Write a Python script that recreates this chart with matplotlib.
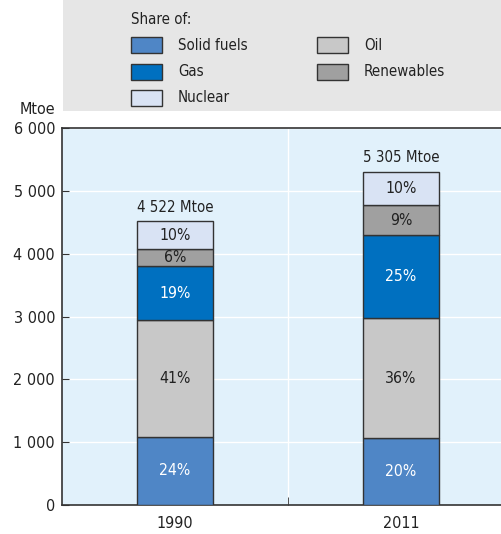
import matplotlib.pyplot as plt
import matplotlib.ticker as ticker
from matplotlib.patches import Rectangle

plt.rcParams['font.family'] = ['Liberation Sans Narrow', 'DejaVu Sans']
plt.rcParams['font.stretch'] = 'condensed'

# Data (Mtoe)
years = ["1990", "2011"]
totals = [4522, 5305]
sources = ["Solid fuels", "Oil", "Gas", "Renewables", "Nuclear"]
shares_1990 = [24, 41, 19, 6, 10]
shares_2011 = [20, 36, 25, 9, 10]
values_1990 = [1085, 1854, 859, 271, 453]
values_2011 = [1061, 1910, 1326, 477, 531]

colors = {"Solid fuels": "#4f86c6", "Oil": "#c8c8c8", "Gas": "#0070c0",
          "Renewables": "#a0a0a0", "Nuclear": "#d9e3f4"}
text_colors = {"Solid fuels": "white", "Oil": "#222222", "Gas": "white",
               "Renewables": "#222222", "Nuclear": "#222222"}

fig = plt.figure(figsize=(5.01, 5.34), dpi=100)
# axes run past the right edge of the picture
ax = fig.add_axes([0.1238, 0.0543, 0.902, 0.706])
ax.set_facecolor("#e1f1fb")

values = [values_1990, values_2011]
shares = [shares_1990, shares_2011]
x = [0, 1]
width = 0.336

for i in range(len(years)):
    bottom = 0
    for j, src in enumerate(sources):
        v = values[i][j]
        ax.bar(x[i], v, width, bottom=bottom, color=colors[src],
               edgecolor="#333333", linewidth=1, zorder=3)
        ax.text(x[i], bottom + v / 2, f"{shares[i][j]}%", ha="center", va="center",
                color=text_colors[src], fontsize=11.3, zorder=4)
        bottom += v
    ax.text(x[i], bottom + 100, f"{totals[i]:,} Mtoe".replace(",", " "), ha="center",
            va="bottom", fontsize=10.8, color="#222222")

ax.set_xlim(-0.5, 1.5)
ax.set_ylim(0, 6000)
ax.set_yticks(range(0, 6001, 1000))
ax.yaxis.set_major_formatter(ticker.FuncFormatter(lambda v, p: f"{int(v):,}".replace(",", " ")))
ax.set_xticks(x)
ax.set_xticklabels(years)
ax.set_xticks([0.5], minor=True)
ax.tick_params(axis="x", which="major", length=0, labelsize=11.5, pad=8, colors="#222222")
ax.tick_params(axis="x", which="minor", direction="in", length=6, color="#333333")
ax.tick_params(axis="y", direction="in", length=5, labelsize=11.6, pad=5, colors="#222222", color="#333333")
ax.grid(axis="y", color="white", linewidth=1, zorder=1)
ax.axvline(0.5, color="white", linewidth=1, zorder=1)
for side in ["left", "bottom", "top"]:
    ax.spines[side].set_color("#333333")
    ax.spines[side].set_linewidth(1.2)
ax.spines["right"].set_visible(False)
ax.text(-0.015, 1.028, "Mtoe", transform=ax.transAxes, ha="right", va="bottom",
        fontsize=11.5, color="#222222")

# legend panel
W, H = 501, 534
fig.patches.append(Rectangle((63 / W, 1 - 111 / H), 1 - 63 / W, 111 / H,
                             transform=fig.transFigure, facecolor="#e6e6e6",
                             edgecolor="none", zorder=0))
fig.text(131 / W, 1 - 20 / H, "Share of:", ha="left", va="center", fontsize=10.8, color="#222222")
legend_order = ["Solid fuels", "Gas", "Nuclear", "Oil", "Renewables"]
legend_pos = [(131, 45), (131, 72), (131, 98), (317, 45), (317, 72)]
for src, (px, py) in zip(legend_order, legend_pos):
    fig.patches.append(Rectangle((px / W, 1 - (py + 8) / H), 31 / W, 16 / H,
                                 transform=fig.transFigure, facecolor=colors[src],
                                 edgecolor="#333333", linewidth=1))
    fig.text((px + 47) / W, 1 - py / H, src, ha="left", va="center",
             fontsize=10.8, color="#222222")

fig.savefig("out.png", dpi=100)
